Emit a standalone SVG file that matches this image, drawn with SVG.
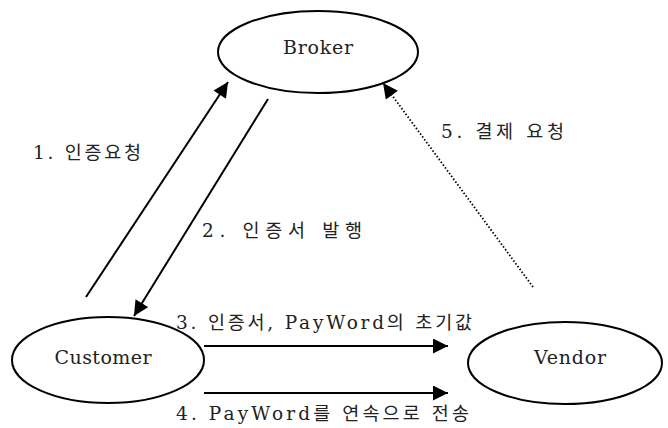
<svg xmlns="http://www.w3.org/2000/svg" width="668" height="428" viewBox="0 0 668 428">
<style>
.node{fill:#fff;stroke:#000;stroke-width:2}
.lbl{font-family:"DejaVu Serif","Noto Sans CJK KR",serif;font-size:18.5px;fill:#222}
.name{font-family:"DejaVu Serif","Noto Sans CJK KR",serif;font-size:19px;fill:#222;text-anchor:middle}
.ln{stroke:#000;stroke-width:2;fill:none}
.dot{stroke:#000;stroke-width:1.8;stroke-dasharray:1.5 2;fill:none}
</style>
<defs>
<marker id="ahb" viewBox="0 0 10 10" refX="10" refY="5" markerWidth="16" markerHeight="15" markerUnits="userSpaceOnUse" orient="auto">
<path d="M0,0 L10,5 L0,10 z" fill="#000"/>
</marker>
</defs>
<g id="broker"><ellipse class="node" cx="318" cy="52" rx="100" ry="41"/><text class="name" x="318" y="54" textLength="70" lengthAdjust="spacing">Broker</text></g>
<g id="customer"><ellipse class="node" cx="108" cy="360" rx="96" ry="43"/><text class="name" x="103" y="364" textLength="97" lengthAdjust="spacing">Customer</text></g>
<g id="vendor"><ellipse class="node" cx="565" cy="363" rx="97" ry="41"/><text class="name" x="570" y="364" textLength="72" lengthAdjust="spacing">Vendor</text></g>
<g id="connectors">
<line class="ln" x1="86" y1="297" x2="228" y2="82" marker-end="url(#ahb)"/>
<line class="ln" x1="268" y1="99" x2="134" y2="316" marker-end="url(#ahb)"/>
<line class="ln" x1="204" y1="346" x2="448" y2="346" marker-end="url(#ahb)"/>
<line class="ln" x1="204" y1="393" x2="448" y2="393" marker-end="url(#ahb)"/>
<line class="dot" x1="533" y1="287" x2="383" y2="83" marker-end="url(#ahb)"/>
</g>
<g id="labels">
<text class="lbl" x="33" y="159" textLength="108" lengthAdjust="spacing">1. 인증요청</text>
<text class="lbl" x="202" y="237" textLength="160" lengthAdjust="spacing">2. 인증서 발행</text>
<text class="lbl" x="176" y="329" textLength="296" lengthAdjust="spacing">3. 인증서, PayWord의 초기값</text>
<text class="lbl" x="176" y="420" textLength="293" lengthAdjust="spacing">4. PayWord를 연속으로 전송</text>
<text class="lbl" x="441" y="138" textLength="123" lengthAdjust="spacing">5. 결제 요청</text>
</g>
</svg>
